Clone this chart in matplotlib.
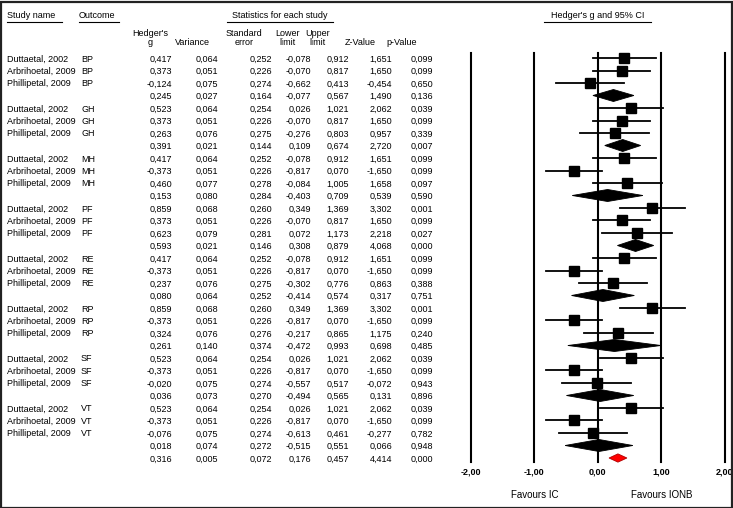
import matplotlib

matplotlib.use("Agg")
import matplotlib.pyplot as plt  # noqa: E402
from matplotlib.patches import Polygon, Rectangle  # noqa: E402
from matplotlib.transforms import blended_transform_factory  # noqa: E402

# --- data ---
outcomes = ["BP", "GH", "MH", "PF", "RE", "RP", "SF", "VT"]
studies = ["Duttaetal, 2002", "Arbrihoetal, 2009", "Phillipetal, 2009"]

# 8 groups x (3 studies + subgroup summary) + overall
hedges_g = [0.417, 0.373, -0.124, 0.245,
            0.523, 0.373, 0.263, 0.391,
            0.417, -0.373, 0.460, 0.153,
            0.859, 0.373, 0.623, 0.593,
            0.417, -0.373, 0.237, 0.080,
            0.859, -0.373, 0.324, 0.261,
            0.523, -0.373, -0.020, 0.036,
            0.523, -0.373, -0.076, 0.018,
            0.316]
variance = [0.064, 0.051, 0.075, 0.027,
            0.064, 0.051, 0.076, 0.021,
            0.064, 0.051, 0.077, 0.080,
            0.068, 0.051, 0.079, 0.021,
            0.064, 0.051, 0.076, 0.064,
            0.068, 0.051, 0.076, 0.140,
            0.064, 0.051, 0.075, 0.073,
            0.064, 0.051, 0.075, 0.074,
            0.005]
std_err = [0.252, 0.226, 0.274, 0.164,
           0.254, 0.226, 0.275, 0.144,
           0.252, 0.226, 0.278, 0.284,
           0.260, 0.226, 0.281, 0.146,
           0.252, 0.226, 0.275, 0.252,
           0.260, 0.226, 0.276, 0.374,
           0.254, 0.226, 0.274, 0.270,
           0.254, 0.226, 0.274, 0.272,
           0.072]
lower = [-0.078, -0.070, -0.662, -0.077,
         0.026, -0.070, -0.276, 0.109,
         -0.078, -0.817, -0.084, -0.403,
         0.349, -0.070, 0.072, 0.308,
         -0.078, -0.817, -0.302, -0.414,
         0.349, -0.817, -0.217, -0.472,
         0.026, -0.817, -0.557, -0.494,
         0.026, -0.817, -0.613, -0.515,
         0.176]
upper = [0.912, 0.817, 0.413, 0.567,
         1.021, 0.817, 0.803, 0.674,
         0.912, 0.070, 1.005, 0.709,
         1.369, 0.817, 1.173, 0.879,
         0.912, 0.070, 0.776, 0.574,
         1.369, 0.070, 0.865, 0.993,
         1.021, 0.070, 0.517, 0.565,
         1.021, 0.070, 0.461, 0.551,
         0.457]
z_value = [1.651, 1.650, -0.454, 1.490,
           2.062, 1.650, 0.957, 2.720,
           1.651, -1.650, 1.658, 0.539,
           3.302, 1.650, 2.218, 4.068,
           1.651, -1.650, 0.863, 0.317,
           3.302, -1.650, 1.175, 0.698,
           2.062, -1.650, -0.072, 0.131,
           2.062, -1.650, -0.277, 0.066,
           4.414]
p_value = [0.099, 0.099, 0.650, 0.136,
           0.039, 0.099, 0.339, 0.007,
           0.099, 0.099, 0.097, 0.590,
           0.001, 0.099, 0.027, 0.000,
           0.099, 0.099, 0.388, 0.751,
           0.001, 0.099, 0.240, 0.485,
           0.039, 0.099, 0.943, 0.896,
           0.039, 0.099, 0.782, 0.948,
           0.000]

col_headers = ["Hedger's\ng", "Variance", "Standard\nerror", "Lower\nlimit",
               "Upper\nlimit", "Z-Value", "p-Value"]
axis_ticks = [-2, -1, 0, 1, 2]

FONT = ["Liberation Sans Narrow", "Liberation Sans", "DejaVu Sans"]
FS = 6.5
W, H = 733, 508


def fmt(v):
    return f"{v:.3f}".replace(".", ",")


def fx(px):
    return px / W


fig = plt.figure(figsize=(W / 100, H / 100), dpi=100)

# forest axes: x -2 at 470.7 px, +2 at 725 px; row 0 at y=58 px, 12.5 px/row
x_left, x_right = 470.7, 725.0
ax = fig.add_axes([fx(x_left), 0, fx(x_right - x_left), 1])
ax.set_xlim(-2, 2)
row0, drow = 58.0, 12.5
ax.set_ylim((H - row0) / drow, -row0 / drow)
ax.axis("off")

n = len(hedges_g)
for x in axis_ticks:
    ax.plot([x, x], [-0.4, 32.3], color="black", lw=1.5, clip_on=False)
    ax.text(x, 33.15, fmt(x)[:-1], ha="center", va="center", fontsize=FS,
            family=FONT, fontweight="bold", clip_on=False)

ax.text(-1, 34.95, "Favours IC", ha="center", va="center", fontsize=FS + 0.5,
        family=FONT, clip_on=False)
ax.text(1, 34.95, "Favours IONB", ha="center", va="center", fontsize=FS + 0.5,
        family=FONT, clip_on=False)

for i in range(n):
    g, lo, hi = hedges_g[i], lower[i], upper[i]
    if i == n - 1:
        ax.add_patch(Polygon([(lo, i), (g, i - 0.33), (hi, i), (g, i + 0.33)],
                             closed=True, facecolor="#ff0000",
                             edgecolor="#b00000", lw=0.6, clip_on=False))
    elif i % 4 == 3:
        ax.add_patch(Polygon([(lo, i), (g, i - 0.48), (hi, i), (g, i + 0.48)],
                             closed=True, facecolor="black",
                             edgecolor="black", lw=0.6, clip_on=False))
    else:
        ax.plot([lo, hi], [i, i], color="black", lw=1.3, clip_on=False)
        ax.plot(g, i, marker="s", ms=7, color="black", clip_on=False)

# --- table on the left ---
tr = blended_transform_factory(fig.transFigure, ax.transData)
num_right = [172, 218, 272, 311, 349, 392, 433]
head_center = [150, 192, 244, 287, 318, 360, 402]
columns = [hedges_g, variance, std_err, lower, upper, z_value, p_value]

for i in range(n):
    if i < n - 1 and i % 4 != 3:
        ax.text(fx(7), i, studies[i % 4], transform=tr, ha="left",
                va="center_baseline", fontsize=FS, family=FONT)
        ax.text(fx(81), i, outcomes[i // 4], transform=tr, ha="left",
                va="center_baseline", fontsize=FS, family=FONT)
    for col, xr in zip(columns, num_right):
        ax.text(fx(xr), i, fmt(col[i]), transform=tr, ha="right",
                va="center_baseline", fontsize=FS, family=FONT)


# column headers (y in pixels from top)
def ypx(px):
    return (px - row0) / drow


for lab, xc in zip(col_headers, head_center):
    ax.text(fx(xc), ypx(47), lab, transform=tr, ha="center", va="bottom",
            fontsize=FS, family=FONT, linespacing=0.95)

top_heads = [("Study name", 7, 62, "left"), ("Outcome", 79, 119, "left"),
             ("Statistics for each study", 227, 333, "center"),
             ("Hedger's g and 95% CI", 544, 651, "center")]
for lab, x0, x1, ha in top_heads:
    xt = x0 if ha == "left" else (x0 + x1) / 2
    ax.text(fx(xt), ypx(19.5), lab, transform=tr, ha=ha, va="bottom",
            fontsize=FS, family=FONT)
    fig.add_artist(plt.Line2D([fx(x0), fx(x1)], [1 - 21.5 / H, 1 - 21.5 / H],
                              color="black", lw=0.8))

# outer frame
fig.add_artist(Rectangle((0.5 / W, 0.5 / H), 1 - 2 / W, 1 - 2 / H,
                         transform=fig.transFigure, fill=False,
                         edgecolor="#222222", lw=1.6))

fig.savefig("out.png", dpi=100, facecolor="white")
